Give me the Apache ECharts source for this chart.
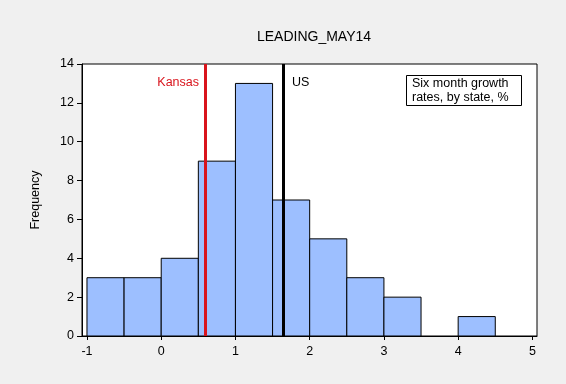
<!DOCTYPE html>
<html><head><meta charset="utf-8">
<script src="https://cdn.jsdelivr.net/npm/echarts@6/dist/echarts.min.js"></script>
<style>html,body{margin:0;padding:0;background:#f0f0f0;}#c{width:566px;height:384px;}</style>
</head><body><div id="c"></div>
<script>
var binStarts = [-1, -0.5, 0, 0.5, 1, 1.5, 2, 2.5, 3, 3.5, 4];
var binEnds   = [-0.5, 0, 0.5, 1, 1.5, 2, 2.5, 3, 3.5, 4, 4.5];
var counts    = [3, 3, 4, 9, 13, 7, 5, 3, 2, 0, 1];
var xTicks = [-1, 0, 1, 2, 3, 4, 5];
var yTicks = [0, 2, 4, 6, 8, 10, 12, 14];
var refNames = ['Kansas', 'US'];
var refValues = [0.59, 1.64];
var refColors = ['#d9141c', '#000000'];
var refLabelY = 13.05;

var data = binStarts.map(function (s, i) { return [s, binEnds[i], counts[i]]; });
var font = 'Liberation Sans, Arial, sans-serif';
var chart = echarts.init(document.getElementById('c'));
chart.setOption({
  backgroundColor: '#f0f0f0',
  animation: false,
  title: [{
    text: 'LEADING_MAY14', left: 309, top: 25, textAlign: 'center',
    textStyle: { fontFamily: font, fontSize: 14, fontWeight: 'normal', color: '#000' }
  }, {
    text: 'Six month growth\nrates, by state, %', left: 406, top: 75,
    padding: [2, 13, 1, 6], borderColor: '#000', borderWidth: 1, backgroundColor: '#fff',
    textStyle: { fontFamily: font, fontSize: 12.5, fontWeight: 'normal', color: '#000', lineHeight: 14 }
  }],
  grid: { left: 82, right: 29, top: 64, bottom: 48, show: true, backgroundColor: '#fff', borderColor: '#000', borderWidth: 1 },
  xAxis: {
    type: 'value', min: -1.067, max: 5.062,
    axisLine: { show: true, onZero: false, lineStyle: { color: '#000' } },
    axisTick: { show: true, customValues: xTicks, length: 4, lineStyle: { color: '#000' } },
    axisLabel: { customValues: xTicks, color: '#000', fontFamily: font, fontSize: 12.5, margin: 9 },
    splitLine: { show: false }
  },
  yAxis: {
    type: 'value', min: 0, max: 14, interval: 2,
    name: 'Frequency', nameLocation: 'middle', nameGap: 40,
    nameTextStyle: { fontFamily: font, fontSize: 12.5, color: '#000' },
    axisLine: { show: true, onZero: false, lineStyle: { color: '#000' } },
    axisTick: { show: true, length: 5, lineStyle: { color: '#000' } },
    axisLabel: { color: '#000', fontFamily: font, fontSize: 12.5, margin: 8 },
    splitLine: { show: false }
  },
  series: [{
    type: 'custom',
    data: data,
    encode: { x: [0, 1], y: 2 },
    renderItem: function (params, api) {
      var c = api.value(2);
      if (!c) return null;
      var p0 = api.coord([api.value(0), c]);
      var p1 = api.coord([api.value(1), 0]);
      return {
        type: 'rect',
        shape: { x: p0[0], y: p0[1], width: p1[0] - p0[0], height: p1[1] - p0[1] },
        style: { fill: '#9dbfff', stroke: '#000', lineWidth: 1 }
      };
    },
    markLine: {
      silent: true, symbol: 'none', label: { show: false },
      data: refValues.map(function (v, i) {
        return { xAxis: v, lineStyle: { color: refColors[i], width: 3, type: 'solid' } };
      })
    }
  }, {
    type: 'scatter', symbolSize: 0, silent: true,
    itemStyle: { opacity: 1 },
    data: refValues.map(function (v, i) {
      return {
        value: [v, refLabelY],
        label: {
          show: true, formatter: refNames[i], color: refColors[i], opacity: 1,
          position: i === 0 ? 'left' : 'right', distance: i === 0 ? 6 : 9,
          fontFamily: font, fontSize: 12.5
        }
      };
    })
  }]
});
</script></body></html>
